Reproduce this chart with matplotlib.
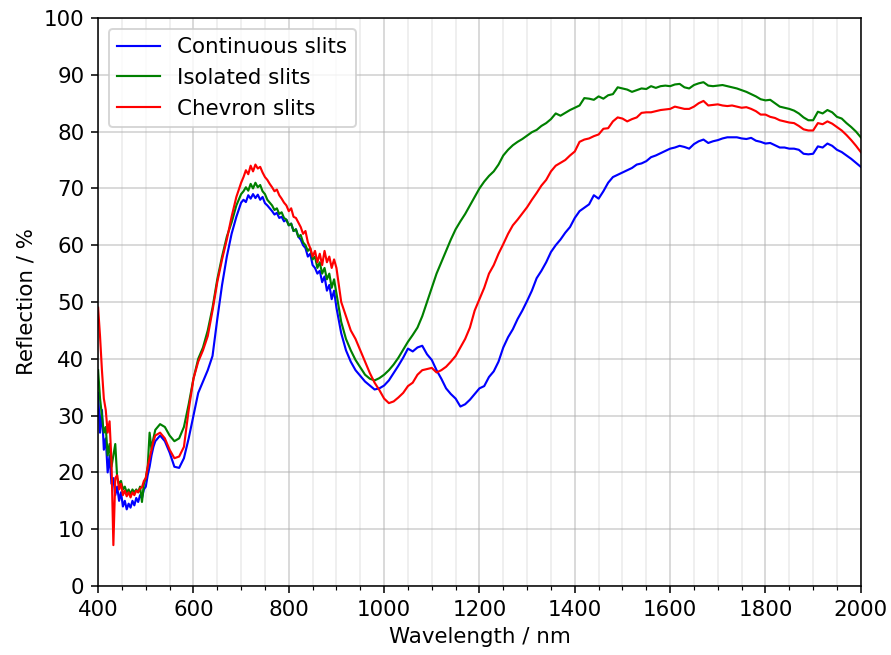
"""
Reflection spectra of three slit geometries (400-2000 nm).
"""
import numpy as np
import matplotlib
matplotlib.use("Agg")
import matplotlib.pyplot as plt
from matplotlib.ticker import MultipleLocator

# ── data ─────────────────────────────────────────────────────────────────────
# wavelength grid: fine where the spectra are noisy, coarser elsewhere
wavelength = np.concatenate([
    np.arange(400, 521, 4),     # 31 points
    np.arange(530, 701, 10),    # 18 points
    np.arange(705, 901, 5),     # 40 points
    np.arange(910, 2001, 10),   # 110 points
])

continuous = [
    # 400-520
    34, 27, 31, 24, 26, 20, 23, 18, 19, 16, 17.5, 15, 16.5, 14, 15, 13.5,
    14.5, 13.8, 15, 14.2, 15.5, 14.8, 16, 15.5, 17, 17.5, 19.5, 21, 23, 24.5, 25.5,
    # 530-700
    26.5, 25.5, 23.5, 21, 20.8, 22.5, 26, 30, 34, 36, 38, 40.5, 47, 53, 58, 62, 65, 67.5,
    # 705-900
    68, 67.6, 68.8, 68.2, 69, 68.3, 68.9, 68, 68.5, 67.4, 67, 66.5, 66, 65.4,
    65.7, 64.8, 65, 64.2, 64.5, 63.5, 63.8, 62.5, 62.8, 61.5, 61, 60, 59.5, 58,
    58.5, 56.5, 56, 55, 55.5, 53.5, 54.5, 52, 53, 50.5, 52, 49,
    # 910-2000
    44.5, 41.5, 39.5, 38, 37, 36, 35.3, 34.6, 34.8, 35.3, 36.2, 37.5, 38.8, 40.2,
    41.8, 41.3, 42, 42.3, 40.8, 39.8, 38, 36.5, 34.8, 33.8, 33, 31.6, 32, 32.8,
    33.8, 34.8, 35.2, 36.8, 37.8, 39.5, 42, 43.8, 45.2, 47, 48.5, 50.2, 52, 54.2,
    55.5, 57, 58.8, 60, 61, 62.2, 63.2, 64.8, 66, 66.6, 67.2, 68.8, 68.2, 69.5,
    71, 72, 72.4, 72.8, 73.2, 73.6, 74.2, 74.4, 74.8, 75.5, 75.8, 76.2, 76.6, 77,
    77.2, 77.5, 77.3, 77, 77.8, 78.3, 78.6, 78, 78.3, 78.5, 78.8, 79, 79, 79,
    78.8, 78.7, 78.9, 78.4, 78.2, 77.9, 78, 77.6, 77.2, 77.2, 77, 77, 76.8, 76.1,
    76, 76.1, 77.4, 77.2, 77.9, 77.5, 76.8, 76.4, 75.8, 75.2, 74.5, 73.8,
]

isolated = [
    # 400-520
    38, 33, 30, 27, 28, 23, 25, 21, 23, 25, 19, 18, 18.5, 17, 17.5, 16.5,
    17, 16.2, 17, 16.5, 17, 16.5, 17.5, 14.8, 18, 19, 21, 27, 24, 26, 27.5,
    # 530-700
    28.5, 28, 26.5, 25.5, 26, 28, 32, 36.5, 40, 42, 45, 49, 54, 58, 61.5, 64, 67, 69,
    # 705-900
    69.5, 70.2, 69.6, 70.8, 70, 71, 70.2, 70.6, 69.5, 69, 68, 67.5, 67, 66.2,
    66.5, 65.5, 65.8, 64.8, 64.5, 63.5, 63.8, 62.5, 62.8, 61.5, 61.8, 60.5, 60, 59,
    59.5, 57.5, 58, 56, 57, 55, 56, 54, 55, 52.5, 54, 51.5,
    # 910-2000
    46.5, 43.5, 41.5, 39.8, 38.5, 37.2, 36.5, 36.2, 36.6, 37.2, 38, 39, 40.2, 41.6,
    43, 44.2, 45.5, 47.5, 50, 52.5, 55, 57, 59, 61, 62.8, 64.2, 65.5, 67,
    68.5, 70, 71.2, 72.2, 73, 74.2, 75.8, 76.8, 77.6, 78.2, 78.7, 79.3, 79.9, 80.3,
    81, 81.5, 82.2, 83.2, 82.8, 83.3, 83.8, 84.2, 84.6, 85.9, 85.8, 85.6, 86.2, 85.8,
    86.4, 86.6, 87.8, 87.6, 87.4, 87, 87.3, 87.6, 87.5, 88, 87.7, 88, 88.1, 88,
    88.3, 88.4, 87.8, 87.6, 88.2, 88.5, 88.7, 88.1, 88, 88.1, 88.2, 88, 87.8, 87.6,
    87.3, 87, 86.6, 86.2, 85.7, 85.5, 85.6, 85, 84.4, 84.2, 84, 83.7, 83.2, 82.5,
    82, 82, 83.5, 83.2, 83.8, 83.4, 82.6, 82.3, 81.5, 80.8, 80, 79,
]

chevron = [
    # 400-520
    49, 44, 38, 33, 31, 27, 29, 22, 7.2, 19, 19.5, 17, 18, 16, 16.8, 15.8,
    16.5, 15.6, 16.5, 16, 16.8, 16.5, 17.2, 17.4, 18.5, 19, 21, 22.5, 24, 25.5, 26.5,
    # 530-700
    27, 26, 24, 22.5, 22.8, 24.5, 31, 36.5, 39.5, 41.5, 44, 48.5, 53.5, 57.5, 61, 65, 68.5, 71,
    # 705-900
    72, 73.2, 72.5, 74, 73, 74.2, 73.5, 73.8, 72.8, 72, 71.5, 70.8, 70.2, 69.5,
    69.8, 68.8, 68.2, 67.5, 67, 66, 66.5, 65, 64.8, 64, 63.2, 62, 62.5, 60.5,
    59.5, 58, 59, 57, 58.5, 56.5, 59, 57, 58, 56, 57.5, 56,
    # 910-2000
    50, 47.5, 45, 43.5, 41.5, 39.5, 37.5, 35.8, 34.5, 33, 32.2, 32.5, 33.2, 34,
    35.2, 35.8, 37.2, 38, 38.2, 38.4, 37.6, 38, 38.6, 39.5, 40.5, 42, 43.5, 45.5,
    48.5, 50.5, 52.5, 55, 56.5, 58.5, 60.2, 62, 63.5, 64.5, 65.6, 66.7, 68, 69.2,
    70.5, 71.5, 73, 74, 74.5, 75, 75.8, 76.5, 78.2, 78.6, 78.8, 79.2, 79.5, 80.5,
    80.6, 81.8, 82.5, 82.3, 81.8, 82.2, 82.5, 83.3, 83.4, 83.4, 83.6, 83.8, 83.9, 84,
    84.4, 84.2, 84, 84, 84.4, 85, 85.4, 84.6, 84.7, 84.8, 84.6, 84.5, 84.6, 84.4,
    84.2, 84.3, 84, 83.6, 83, 83, 82.6, 82.4, 82, 81.8, 81.6, 81.5, 81, 80.4,
    80.2, 80.2, 81.5, 81.3, 81.8, 81.4, 80.8, 80.2, 79.4, 78.5, 77.5, 76.4,
]

labels = ["Continuous slits", "Isolated slits", "Chevron slits"]
colors = ["blue", "green", "red"]

# ── plot ─────────────────────────────────────────────────────────────────────
plt.rcParams["font.size"] = 11

fig = plt.figure(figsize=(892 / 140, 655 / 140), dpi=140)
ax = fig.add_axes([0.110, 0.1053, 0.855, 0.8672])

for series, label, color in zip([continuous, isolated, chevron], labels, colors):
    ax.plot(wavelength, series, color=color, lw=1.1, label=label)

ax.set_xlim(400, 2000)
ax.set_ylim(0, 100)
ax.xaxis.set_major_locator(MultipleLocator(200))
ax.xaxis.set_minor_locator(MultipleLocator(50))
ax.yaxis.set_major_locator(MultipleLocator(10))

ax.grid(which="major", color="#b0b0b0", alpha=0.6, lw=0.8)
ax.grid(which="minor", axis="x", color="#b0b0b0", alpha=0.25, lw=0.8)
ax.set_axisbelow(True)

ax.set_xlabel("Wavelength / nm")
ax.set_ylabel("Reflection / %")
ax.legend(loc="upper left")

fig.savefig("out.png", dpi=140)
